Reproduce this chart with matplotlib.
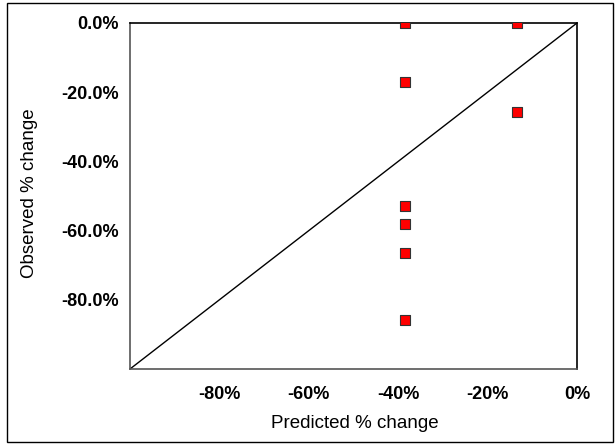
import matplotlib.pyplot as plt
from matplotlib.patches import Rectangle

# predicted vs observed % change
predicted = [-38.5, -38.5, -38.5, -38.5, -38.5, -38.5, -13.4, -13.4]
observed = [0.0, -17.0, -52.9, -58.1, -66.5, -85.8, 0.0, -25.7]
x_ticks = [-80, -60, -40, -20, 0]
x_labels = ['-80%', '-60%', '-40%', '-20%', '0%']
y_ticks = [0, -20, -40, -60, -80]
y_labels = ['0.0%', '-20.0%', '-40.0%', '-60.0%', '-80.0%']

plt.rcParams['font.family'] = ['Liberation Sans', 'DejaVu Sans']

fig = plt.figure(figsize=(6.16, 4.44), dpi=100)
ax = fig.add_axes([130 / 616, 1 - 369 / 444, 447 / 616, 346 / 444])

ax.plot([-100, 0], [-100, 0], color='black', linewidth=1)
ax.scatter(predicted, observed, marker='s', s=55, color='#ff0000',
           edgecolors='#333333', linewidths=0.8, zorder=3)

ax.set_xlim(-100, 0)
ax.set_ylim(-100, 0)
ax.set_xticks(x_ticks)
ax.set_xticklabels(x_labels, fontweight='bold', fontsize=13)
ax.set_yticks(y_ticks)
ax.set_yticklabels(y_labels, fontweight='bold', fontsize=13)
ax.tick_params(axis='x', length=0, pad=12)
ax.tick_params(axis='y', length=0, pad=8)

for side in ['top', 'right']:
    ax.spines[side].set_color('black')
for side in ['left', 'bottom']:
    ax.spines[side].set_color('#555555')
for s in ax.spines.values():
    s.set_linewidth(1.2)

fig.text(355 / 616, 1 - 423 / 444, 'Predicted % change', fontsize=13.5,
         ha='center', va='center')
fig.text(30 / 616, 1 - 193 / 444, 'Observed % change', fontsize=13.5,
         rotation=90, ha='center', va='center')

# outer chart border
fig.patches.append(Rectangle((7 / 616, 1 - 442 / 444), 606 / 616, 439 / 444,
                             transform=fig.transFigure, fill=False,
                             edgecolor='black', linewidth=1))

fig.savefig('out.png', dpi=100)
